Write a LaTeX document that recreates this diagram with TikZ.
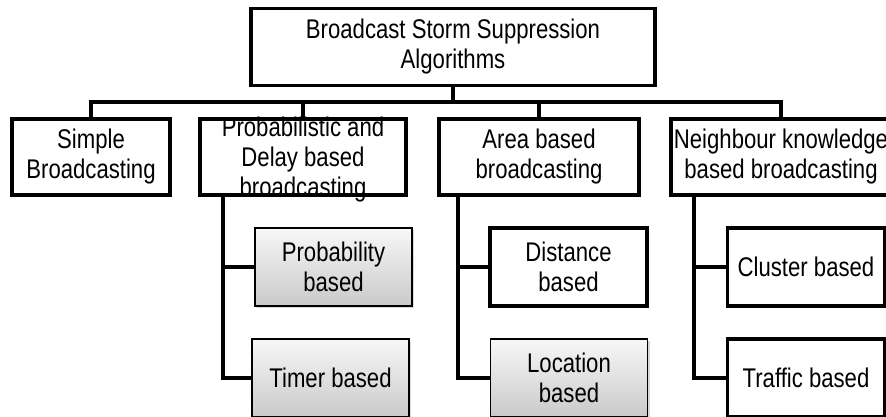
\documentclass[tikz,border=0pt]{standalone}
\usepackage{fontspec}
\setmainfont[FakeStretch=0.82]{Liberation Sans}
\usetikzlibrary{shadows}

\tikzset{
    box/.style={draw, line width=3.5pt, fill=white, minimum height=77pt, inner sep=0pt,
        align=center, font=\fontsize{27}{30}\selectfont},
    subbox/.style={box, minimum width=157pt, minimum height=78pt},
    greybox/.style={subbox, line width=1.6pt, top color=gray!6, bottom color=gray!42,
        drop shadow={shadow xshift=2pt, shadow yshift=-2pt, opacity=.3}},
    link/.style={line width=3.5pt}
}

\begin{document}
\begin{tikzpicture}[x=1pt, y=-1pt]
    \useasboundingbox (0,0) rectangle (886,416);
    \clip (0,0) rectangle (886,416);

    \node[box, minimum width=404pt] (root) at (453,47) {Broadcast Storm Suppression\\Algorithms};

    \node[box, minimum width=158pt, minimum height=76pt] (simple) at (91,157) {Simple\\Broadcasting};
    \node[box, minimum width=206pt, minimum height=76pt] (prob) at (303,157)
        {\raisebox{-10pt}[0pt][0pt]{\begin{tabular}{@{}c@{}}Probabilistic and\\Delay based\\broadcasting\end{tabular}}};
    \node[box, minimum width=200pt, minimum height=76pt] (area) at (539,157) {Area based\\broadcasting};
    \node[box, minimum width=220pt, minimum height=76pt] (nbr) at (781,157) {Neighbour knowledge\\based broadcasting};

    \node[greybox] (probty) at (333.5,267) {Probability\\based};
    \node[greybox] (timer) at (330.5,378) {Timer based};
    \node[subbox] (dist) at (568.5,267) {Distance\\based};
    \node[greybox] (loc) at (569,378) {Location\\based};
    \node[subbox] (clus) at (806,267) {Cluster based};
    \node[subbox] (traf) at (806,378) {Traffic based};

    \coordinate (bus) at (453,102);
    \coordinate (pspine) at (223,195);
    \coordinate (aspine) at (458,195);
    \coordinate (nspine) at (694,195);

    \draw[link] (root.south) -- (bus);
    \draw[link] (simple.north) |- (bus -| nbr.north) -- (nbr.north);
    \draw[link] (prob.north) -- (prob.north |- bus);
    \draw[link] (area.north) -- (area.north |- bus);

    \draw[link] (pspine) |- (timer.west);
    \draw[link] (probty.west) -- (probty.west -| pspine);
    \draw[link] (aspine) |- (loc.west);
    \draw[link] (dist.west) -- (dist.west -| aspine);
    \draw[link] (nspine) |- (traf.west);
    \draw[link] (clus.west) -- (clus.west -| nspine);
\end{tikzpicture}
\end{document}
